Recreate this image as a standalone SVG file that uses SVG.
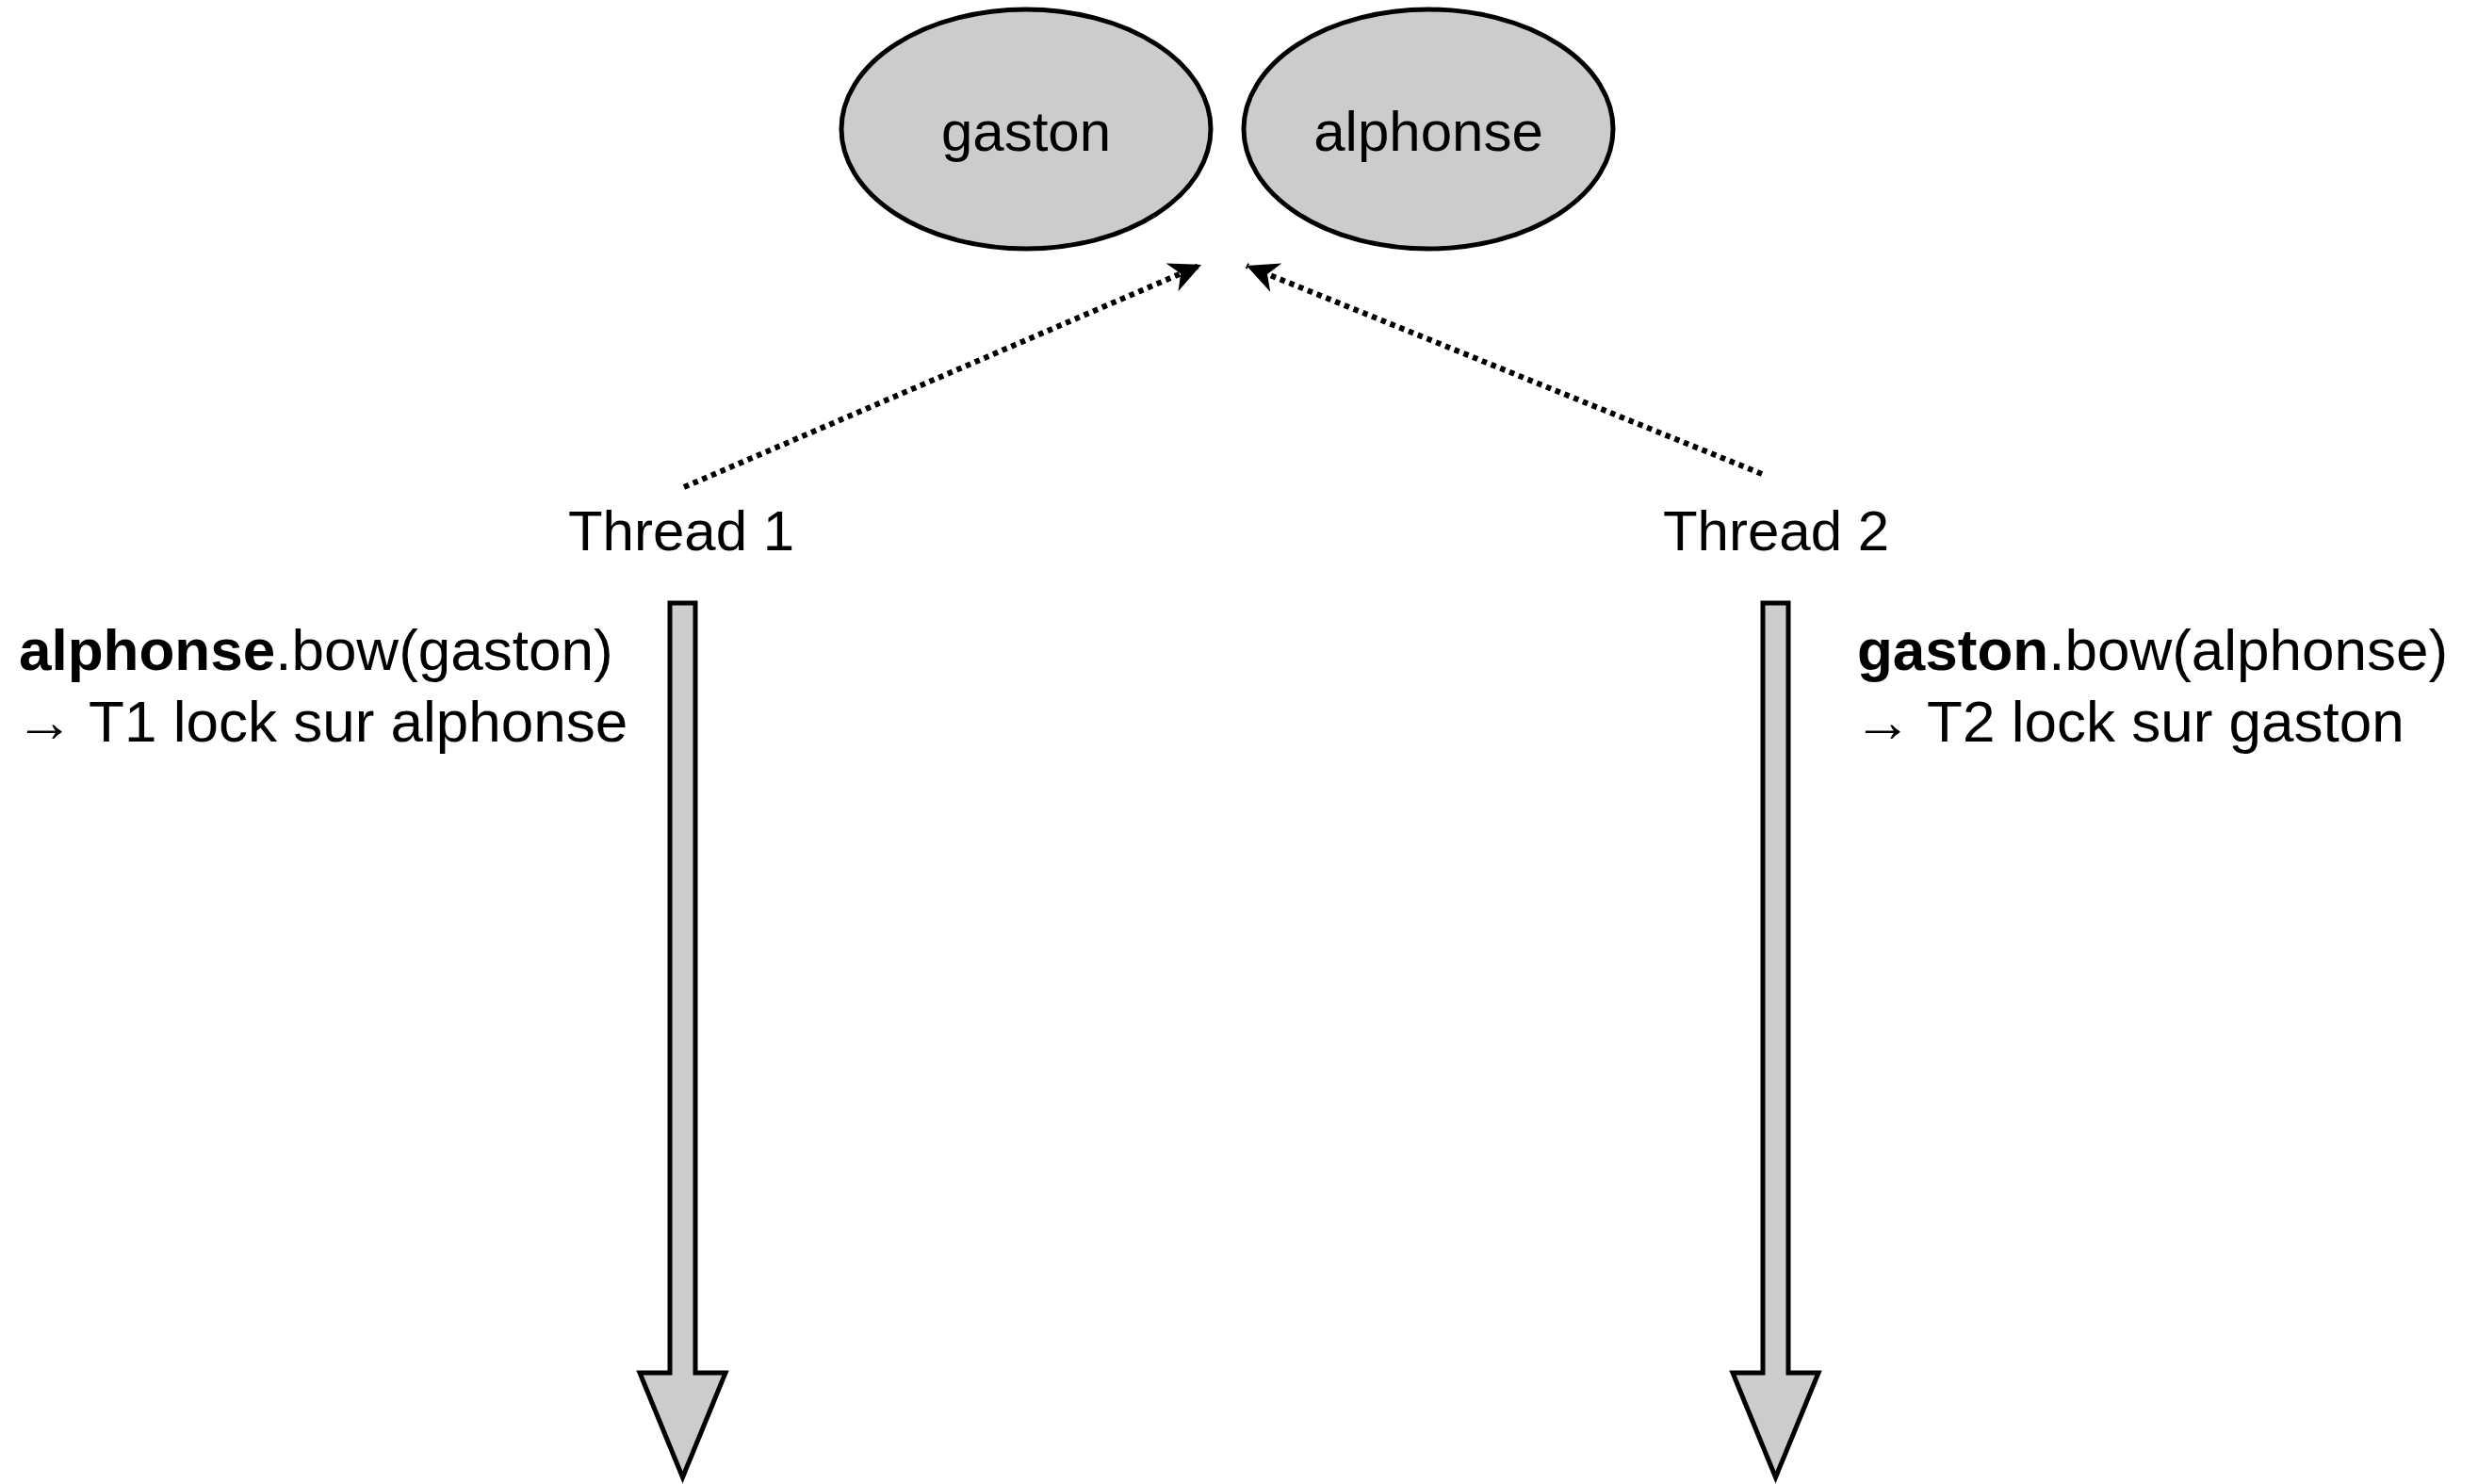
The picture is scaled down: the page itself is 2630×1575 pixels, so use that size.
<svg xmlns="http://www.w3.org/2000/svg" width="2630" height="1575" viewBox="0 0 2630 1575">
  <style>
    .obj { fill: #cccccc; stroke: #000; stroke-width: 5; }
    .label { font-family: "Liberation Sans", Arial, sans-serif; font-size: 60px; fill: #000; }
    .call { font-size: 62px; }
    .mid { text-anchor: middle; }
    .b { font-weight: bold; }
    .dots { fill: none; stroke: #000; stroke-width: 6; stroke-dasharray: 5.5 5; }
    .timeline { fill: #cccccc; stroke: #000; stroke-width: 5; stroke-linejoin: miter; }
  </style>
  <defs>
    <marker id="head" markerUnits="userSpaceOnUse" markerWidth="40" markerHeight="40" viewBox="-30 -15 32 30" refX="0" refY="0" orient="auto">
      <path d="M0,0 L-27,-13 L-19,0 L-27,13 Z" fill="#000"/>
    </marker>
  </defs>

  <rect width="2630" height="1575" fill="#fff"/>

  <!-- shared objects -->
  <g id="gaston">
    <ellipse class="obj" cx="1089" cy="137" rx="196" ry="127"/>
    <text class="label mid" x="1089" y="160">gaston</text>
  </g>
  <g id="alphonse">
    <ellipse class="obj" cx="1516" cy="137" rx="196" ry="127"/>
    <text class="label mid" x="1516" y="160">alphonse</text>
  </g>

  <!-- threads -->
  <g id="thread1">
    <text class="label mid" x="723" y="584">Thread 1</text>
    <path class="timeline" d="M711,640 L738,640 L738,1457 L770,1457 L724.5,1568 L679,1457 L711,1457 Z"/>
    <text class="label call" x="20" y="711"><tspan class="b">alphonse</tspan>.bow(gaston)</text>
    <text class="label call" x="16" y="787"><tspan class="b">→</tspan> T1 lock sur alphonse</text>
  </g>
  <g id="thread2">
    <text class="label mid" x="1885" y="584">Thread 2</text>
    <path class="timeline" d="M1871,640 L1898,640 L1898,1457 L1930,1457 L1884.5,1568 L1839,1457 L1871,1457 Z"/>
    <text class="label call" x="1971" y="711"><tspan class="b">gaston</tspan>.bow(alphonse)</text>
    <text class="label call" x="1967" y="787"><tspan class="b">→</tspan> T2 lock sur gaston</text>
  </g>

  <!-- lock requests -->
  <g id="connectors">
    <line class="dots" x1="726" y1="517" x2="1275" y2="281" marker-end="url(#head)"/>
    <line class="dots" x1="1870" y1="503" x2="1323" y2="282" marker-end="url(#head)"/>
  </g>
</svg>
